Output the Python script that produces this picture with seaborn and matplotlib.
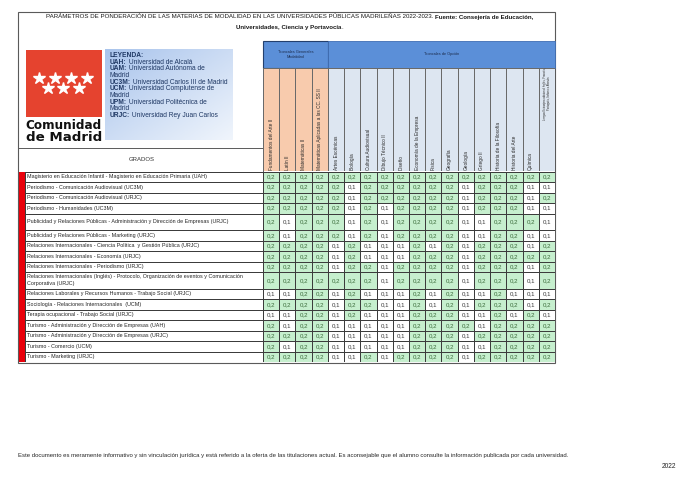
import numpy as np
import pandas as pd
import matplotlib
matplotlib.use('Agg')
import matplotlib.pyplot as plt
import seaborn as sns
from matplotlib.colors import ListedColormap, LinearSegmentedColormap
from matplotlib.patches import Rectangle

grados = [
    'Magisterio en Educación Infantil - Magisterio en Educación Primaria (UAH)',
    'Periodismo - Comunicación Audiovisual (UC3M)',
    'Periodismo - Comunicación Audiovisual (URJC)',
    'Periodismo - Humanidades (UC3M)',
    'Publicidad y Relaciones Públicas - Administración y Dirección de Empresas (URJC)',
    'Publicidad y Relaciones Públicas - Marketing (URJC)',
    'Relaciones Internacionales - Ciencia Política  y Gestión Pública (URJC)',
    'Relaciones Internacionales - Economía (URJC)',
    'Relaciones Internacionales - Periodismo (URJC)',
    'Relaciones Internacionales (Inglés) - Protocolo, Organización de eventos y Comunicación\nCorporativa (URJC)',
    'Relaciones Laborales y Recursos Humanos - Trabajo Social (URJC)',
    'Sociología - Relaciones Internacionales  (UCM)',
    'Terapia ocupacional - Trabajo Social (URJC)',
    'Turismo - Administración y Dirección de Empresas (UAH)',
    'Turismo - Administración y Dirección de Empresas (URJC)',
    'Turismo - Comercio (UCM)',
    'Turismo - Marketing (URJC)',
]

materias_generales = ['Fundamentos del Arte II', 'Latín II', 'Matemáticas II',
                      'Matemáticas Aplicadas a las CC. SS II']
materias_opcion = ['Artes Escénicas', 'Biología', 'Cultura Audiovisual', 'Dibujo Técnico II',
                   'Diseño', 'Economía de la Empresa', 'Física', 'Geografía', 'Geología',
                   'Griego II', 'Historia de la Filosofía', 'Historia del Arte', 'Química',
                   'Lengua Extranjera adicional: Inglés, Francés,\nPortugués, Italiano o Alemán']

ponderaciones = [
    [0.2, 0.2, 0.2, 0.2, 0.2, 0.2, 0.2, 0.2, 0.2, 0.2, 0.2, 0.2, 0.2, 0.2, 0.2, 0.2, 0.2, 0.2],
    [0.2, 0.2, 0.2, 0.2, 0.2, 0.1, 0.2, 0.2, 0.2, 0.2, 0.2, 0.2, 0.1, 0.2, 0.2, 0.2, 0.1, 0.1],
    [0.2, 0.2, 0.2, 0.2, 0.2, 0.1, 0.2, 0.2, 0.2, 0.2, 0.2, 0.2, 0.1, 0.2, 0.2, 0.2, 0.1, 0.2],
    [0.2, 0.2, 0.2, 0.2, 0.2, 0.1, 0.2, 0.1, 0.2, 0.2, 0.2, 0.2, 0.1, 0.2, 0.2, 0.2, 0.1, 0.1],
    [0.2, 0.1, 0.2, 0.2, 0.2, 0.1, 0.2, 0.1, 0.2, 0.2, 0.2, 0.2, 0.1, 0.1, 0.2, 0.2, 0.2, 0.1],
    [0.2, 0.1, 0.2, 0.2, 0.2, 0.1, 0.2, 0.1, 0.2, 0.2, 0.2, 0.2, 0.1, 0.1, 0.2, 0.2, 0.1, 0.1],
    [0.2, 0.2, 0.2, 0.2, 0.1, 0.2, 0.1, 0.1, 0.1, 0.2, 0.1, 0.2, 0.1, 0.2, 0.2, 0.2, 0.1, 0.2],
    [0.2, 0.2, 0.2, 0.2, 0.1, 0.2, 0.1, 0.1, 0.1, 0.2, 0.2, 0.2, 0.1, 0.2, 0.2, 0.2, 0.2, 0.2],
    [0.2, 0.2, 0.2, 0.2, 0.1, 0.2, 0.2, 0.1, 0.2, 0.2, 0.2, 0.2, 0.1, 0.2, 0.2, 0.2, 0.1, 0.2],
    [0.2, 0.2, 0.2, 0.2, 0.2, 0.2, 0.2, 0.1, 0.2, 0.2, 0.2, 0.2, 0.1, 0.2, 0.2, 0.2, 0.1, 0.2],
    [0.1, 0.1, 0.2, 0.2, 0.1, 0.2, 0.1, 0.1, 0.1, 0.2, 0.1, 0.2, 0.1, 0.1, 0.2, 0.1, 0.1, 0.1],
    [0.2, 0.2, 0.2, 0.2, 0.1, 0.2, 0.2, 0.1, 0.1, 0.2, 0.1, 0.2, 0.1, 0.2, 0.2, 0.2, 0.1, 0.2],
    [0.1, 0.1, 0.2, 0.2, 0.1, 0.2, 0.1, 0.1, 0.1, 0.2, 0.2, 0.2, 0.1, 0.1, 0.2, 0.1, 0.2, 0.1],
    [0.2, 0.1, 0.2, 0.2, 0.1, 0.1, 0.1, 0.1, 0.1, 0.2, 0.2, 0.2, 0.2, 0.1, 0.2, 0.2, 0.2, 0.2],
    [0.2, 0.2, 0.2, 0.2, 0.1, 0.1, 0.1, 0.1, 0.1, 0.2, 0.2, 0.2, 0.1, 0.2, 0.2, 0.2, 0.2, 0.2],
    [0.2, 0.1, 0.2, 0.2, 0.1, 0.1, 0.1, 0.1, 0.1, 0.2, 0.2, 0.2, 0.1, 0.1, 0.2, 0.2, 0.2, 0.2],
    [0.2, 0.2, 0.2, 0.2, 0.1, 0.1, 0.2, 0.1, 0.2, 0.2, 0.2, 0.2, 0.1, 0.2, 0.2, 0.2, 0.2, 0.2],
]

leyenda = [('LEYENDA:', ''), ('UAH:', ' Universidad de Alcalá'), ('UAM:', ' Universidad Autónoma de'),
           ('', 'Madrid'), ('UC3M:', ' Universidad Carlos III de Madrid'),
           ('UCM:', ' Universidad Complutense de'), ('', 'Madrid'),
           ('UPM:', ' Universidad Politécnica de'), ('', 'Madrid'),
           ('URJC:', ' Universidad Rey Juan Carlos')]

titulo_1 = [('PARÁMETROS DE PONDERACIÓN DE LAS MATERIAS DE MODALIDAD EN LAS UNIVERSIDADES '
             'PÚBLICAS MADRILEÑAS 2022-2023. ', False), ('Fuente: Consejería de Educación,', True)]
titulo_2 = [('Universidades, Ciencia y Portavocía', True), ('.', False)]
nota = ('Este documento es meramente informativo y sin vinculación jurídica y está referido a la '
        'oferta de las titulaciones actual. Es aconsejable que el alumno consulte la información '
        'publicada por cada universidad.')

materias = materias_generales + materias_opcion
df = pd.DataFrame(ponderaciones, index=grados, columns=materias)
etiquetas = df.map(lambda v: f'{v:.1f}'.replace('.', ','))

plt.rcParams['font.family'] = ['Liberation Sans Narrow', 'Liberation Sans', 'DejaVu Sans']

W, H = 688, 486
fig = plt.figure(figsize=(W / 100, H / 100), dpi=100)
renderer = fig.canvas.get_renderer()

bg = fig.add_axes([0, 0, 1, 1])
bg.set_xlim(0, W)
bg.set_ylim(H, 0)
bg.axis('off')


def px_axes(x0, y0, x1, y1):
    return fig.add_axes([x0 / W, 1 - y1 / H, (x1 - x0) / W, (y1 - y0) / H])


def ancho(t):
    return t.get_window_extent(renderer=renderer).width


def tamano(texto, objetivo, **kw):
    t = bg.text(0, 0, texto, fontsize=10, **kw)
    w = ancho(t)
    t.remove()
    return 10 * objetivo / w


def linea(ax, x, y, partes, size, ha='left', **kw):
    textos, cur = [], 0
    for s, negrita in partes:
        if not s:
            continue
        t = ax.text(x + cur, y, s, fontsize=size, fontweight='bold' if negrita else 'normal',
                    ha='left', va='center', **kw)
        cur += ancho(t)
        textos.append(t)
    if ha == 'center':
        for t in textos:
            t.set_x(t.get_position()[0] - cur / 2)
    return textos, cur


# marco y título
bg.add_patch(Rectangle((18, 12), 537, 351, fill=False, ec='#5a5a5a', lw=0.8))
ts, w = linea(bg, 0, 0, titulo_1, 10)
for t in ts:
    t.remove()
fs_tit = 10 * 492 / w
linea(bg, 290, 17, titulo_1, fs_tit, ha='center', color='#1a1a1a')
linea(bg, 290, 27.5, titulo_2, fs_tit, ha='center', color='#1a1a1a')

# logo
bg.add_patch(Rectangle((25.5, 50), 76, 67, color='#e5432f', lw=0))
bg.plot([39.3, 55, 71, 87.3], [78.3] * 4, ls='none', marker='*', ms=9, color='white', mec='white')
bg.plot([47.7, 63.3, 79.3], [87.7] * 3, ls='none', marker='*', ms=9, color='white', mec='white')
for txt, yy in [('Comunidad', 125.5), ('de Madrid', 137.5)]:
    fs = tamano(txt, 76, family='DejaVu Sans', fontweight='bold')
    bg.text(25.5, yy, txt, fontsize=fs, family='DejaVu Sans', fontweight='bold',
            ha='left', va='center', color='#111111')

# leyenda
lg = px_axes(105, 49, 233, 140)
grad = np.add.outer(np.linspace(0, 1, 60), np.linspace(0, 1, 80))
lg.imshow(grad, cmap=LinearSegmentedColormap.from_list('g', ['#a9c4ec', '#f0f5fc']),
          extent=(105, 233, 140, 49), aspect='auto')
lg.set_xlim(105, 233)
lg.set_ylim(140, 49)
lg.axis('off')
ts, w = linea(lg, 0, 0, [('UC3M:', True), (' Universidad Carlos III de Madrid', False)], 10)
for t in ts:
    t.remove()
fs_ley = 10 * 118 / w
for i, (neg, normal) in enumerate(leyenda):
    linea(lg, 110, 55.5 + i * 6.65, [(neg, True), (normal, False)], fs_ley,
          color='#1f3864', linespacing=1)

# GRADOS
bg.plot([18, 263], [148, 148], color='#5a5a5a', lw=0.7)
bg.plot([263, 263], [148, 171.5], color='#5a5a5a', lw=0.7)
bg.text(142, 159.5, 'GRADOS', fontsize=tamano('GRADOS', 26), ha='center', va='center', color='#333333')

# cabecera de grupos
gx0, gx1 = 263, 555
cw = (gx1 - gx0) / len(materias)
ng = len(materias_generales)
bg.add_patch(Rectangle((gx0, 41), ng * cw, 27, fc='#5b8fd8', ec='#24406e', lw=0.8))
bg.add_patch(Rectangle((gx0 + ng * cw, 41), (len(materias) - ng) * cw, 27, fc='#5b8fd8', ec='#3f6db3', lw=0.6))
fs_grp = tamano('Troncales de Opción', 36)
bg.text(gx0 + ng * cw / 2, 54.5, 'Troncales Generales\nModalidad', fontsize=fs_grp, ha='center',
        va='center', color='#1c2c4c', linespacing=1.5)
bg.text(gx0 + ng * cw + (len(materias) - ng) * cw / 2, 54.5, 'Troncales de Opción', fontsize=fs_grp,
        ha='center', va='center', color='#1c2c4c')

# cabecera de materias
gy0 = 171.5
hax = px_axes(gx0, 68, gx1, gy0)
grupo = np.array([[0] * ng + [1] * (len(materias) - ng)])
sns.heatmap(grupo, ax=hax, cmap=ListedColormap(['#f8cbad', '#dde6f1']), vmin=-0.5, vmax=1.5,
            cbar=False, linewidths=0.6, linecolor='#6a6a6a', xticklabels=False, yticklabels=False)
fs_col = tamano(materias[0], 51)
for i, m in enumerate(materias):
    if '\n' in m:
        hax.text(i + 0.5, 0.5, m, rotation=90, ha='center', va='bottom', fontsize=fs_col * 0.55,
                 color='#2a2a2a', linespacing=1.2)
    else:
        hax.text(i + 0.5, 0.985, m, rotation=90, ha='center', va='bottom', fontsize=fs_col,
                 color='#2a2a2a')

# filas de la tabla (dos filas más altas)
altos = {4, 9}
alturas = [16.6 if i in altos else 10.5 for i in range(len(grados))]
bordes = gy0 + np.concatenate([[0], np.cumsum(alturas)])
tramos, inicio = [], 0
for i in range(1, len(grados) + 1):
    if i == len(grados) or i in altos or (i - 1) in altos:
        tramos.append((inicio, i))
        inicio = i

fs_fila = tamano(grados[0], 180)
fs_celda = tamano('0,2', 8.6)
cmap_celdas = ListedColormap(['#ffffff', '#c6efce'])
bg.add_patch(Rectangle((19, gy0), 6, bordes[-1] - gy0, color='#e8000b', lw=0))

for a, b in tramos:
    ya, yb = bordes[a], bordes[b]
    ax = px_axes(gx0, ya, gx1, yb)
    sns.heatmap(df.iloc[a:b], ax=ax, cmap=cmap_celdas, vmin=0.05, vmax=0.25, cbar=False,
                annot=etiquetas.iloc[a:b].values, fmt='', annot_kws={'fontsize': fs_celda},
                linewidths=0.6, linecolor='#3c3c3c', xticklabels=False, yticklabels=False)
    for t in ax.texts:
        t.set_color('#3b6b3b' if t.get_text() == '0,2' else '#3a3a3a')
    ax.set_xlabel('')
    ax.set_ylabel('')

    lax = px_axes(25, ya, gx0, yb)
    sns.heatmap(pd.DataFrame(np.zeros((b - a, 1))), ax=lax, cmap=ListedColormap(['#ffffff']),
                cbar=False, linewidths=0.6, linecolor='#3c3c3c', xticklabels=False, yticklabels=False)
    lax.set_yticks(np.arange(b - a) + 0.5)
    lax.set_yticklabels(grados[a:b], rotation=0, ha='left', va='center', fontsize=fs_fila,
                        color='#262626', linespacing=1.5)
    lax.tick_params(axis='y', length=0, pad=-1.5)

# pie
bg.text(18.5, 455, nota, fontsize=tamano(nota, 553), ha='left', va='center', color='#262626')
bg.text(676, 466, '2022', fontsize=tamano('2022', 15), ha='right', va='center', color='#262626')

plt.savefig('out.png', dpi=100)
